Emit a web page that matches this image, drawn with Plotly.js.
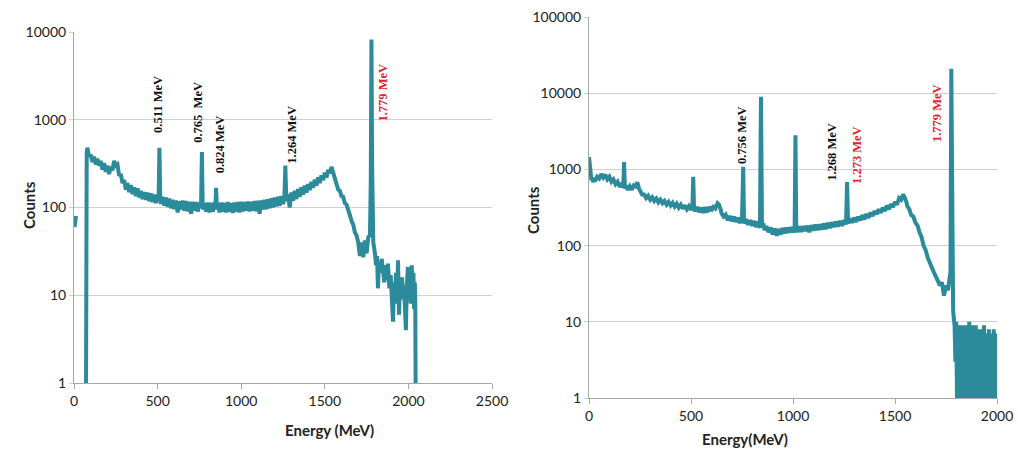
<!DOCTYPE html>
<html>
<head>
<meta charset="utf-8">
<script src="https://cdn.plot.ly/plotly-3.0.1.min.js"></script>
<style>html,body{margin:0;padding:0;background:#fff;}#chart{width:1018px;height:466px;}</style>
</head>
<body>
<div id="chart"></div>
<script>
// ---- Left spectrum (Energy as labelled on the axis, Counts) ----
const leftEnergy = [3, 8, 12, null, 70, 72, 76, 80, 90, 100, 110, 120, 130, 140, 150, 160, 170, 180, 190, 200, 210, 220, 230, 240, 250, 260, 270, 280, 290, 300, 310, 320, 330, 340, 350, 360, 370, 380, 390, 400, 410, 420, 430, 440, 450, 460, 470, 480, 490, 500, 506, 511, 516, 520, 530, 540, 550, 560, 570, 580, 590, 600, 610, 620, 630, 640, 650, 660, 670, 680, 690, 700, 710, 720, 730, 740, 750, 755, 760, 765, 770, 780, 790, 800, 810, 820, 830, 840, 845, 850, 855, 860, 870, 880, 890, 900, 910, 920, 930, 940, 950, 960, 970, 980, 990, 1000, 1010, 1020, 1030, 1040, 1050, 1060, 1070, 1080, 1090, 1100, 1110, 1120, 1130, 1140, 1150, 1160, 1170, 1180, 1190, 1200, 1210, 1220, 1230, 1240, 1250, 1258, 1264, 1270, 1280, 1290, 1300, 1310, 1320, 1330, 1340, 1350, 1360, 1370, 1380, 1390, 1400, 1410, 1420, 1430, 1440, 1450, 1460, 1470, 1480, 1490, 1500, 1510, 1520, 1530, 1540, 1548, 1555, 1560, 1570, 1580, 1590, 1600, 1610, 1620, 1630, 1640, 1650, 1660, 1670, 1680, 1690, 1700, 1710, 1720, 1730, 1740, 1750, 1760, 1770, 1775, 1779, 1783, 1790, 1800, 1806, 1812, 1818, 1824, 1832, 1840, 1848, 1856, 1864, 1872, 1878, 1886, 1894, 1902, 1908, 1914, 1920, 1926, 1932, 1938, 1944, 1950, 1956, 1962, 1968, 1974, 1980, 1985, 1990, 1997, 2003, 2008, 2014, 2020, 2026, 2030, 2034, 2038, 2041, 2043];
const leftCounts = [60, 72, 80, null, 1, 1, 420, 480, 380, 400, 330, 380, 310, 360, 300, 340, 270, 320, 255, 300, 240, 290, 265, 340, 300, 310, 230, 240, 190, 205, 160, 190, 150, 180, 142, 170, 135, 165, 130, 155, 125, 150, 122, 148, 118, 145, 115, 140, 112, 138, 125, 480, 120, 110, 132, 105, 130, 102, 126, 98, 122, 96, 120, 88, 118, 95, 120, 92, 118, 90, 116, 85, 116, 92, 115, 90, 114, 100, 110, 430, 95, 112, 90, 114, 88, 113, 90, 114, 95, 168, 95, 112, 88, 114, 90, 113, 88, 115, 90, 112, 87, 114, 90, 115, 88, 116, 90, 115, 92, 117, 90, 116, 92, 118, 91, 119, 85, 120, 95, 122, 96, 124, 98, 127, 100, 130, 103, 132, 105, 135, 110, 125, 300, 118, 142, 100, 148, 120, 155, 125, 162, 132, 170, 140, 178, 148, 185, 158, 196, 168, 208, 178, 220, 190, 232, 205, 250, 220, 268, 245, 290, 255, 250, 215, 190, 160, 155, 135, 132, 112, 108, 90, 82, 70, 64, 52, 48, 40, 28, 40, 27, 42, 30, 46, 48, 200, 8200, 300, 40, 30, 22, 28, 12, 24, 18, 26, 20, 14, 22, 15, 23, 12, 17, 9, 5, 14, 10, 18, 8, 25, 6, 14, 9, 16, 10, 13, 7, 4, 12, 21, 9, 15, 8, 22, 10, 18, 7, 14, 9, 1];

// ---- Right spectrum ----
const rightEnergy = [0, 4, 8, 12, 16, 20, 25, 30, 40, 50, 60, 70, 80, 90, 100, 110, 120, 130, 140, 150, 160, 168, 172, 176, 180, 190, 200, 210, 220, 230, 237, 245, 250, 260, 270, 280, 290, 300, 310, 320, 330, 340, 350, 360, 370, 380, 390, 400, 410, 420, 430, 440, 450, 460, 470, 480, 490, 500, 507, 511, 515, 520, 530, 540, 550, 560, 570, 580, 590, 600, 610, 620, 630, 637, 645, 650, 660, 670, 680, 690, 700, 710, 720, 730, 740, 750, 756, 760, 770, 780, 790, 800, 810, 820, 830, 838, 843, 848, 855, 860, 870, 880, 890, 900, 910, 920, 930, 940, 950, 960, 970, 980, 990, 1000, 1008, 1012, 1016, 1020, 1030, 1040, 1050, 1060, 1070, 1080, 1090, 1100, 1110, 1120, 1130, 1140, 1150, 1160, 1170, 1180, 1190, 1200, 1210, 1220, 1230, 1240, 1250, 1260, 1265, 1270, 1280, 1290, 1300, 1310, 1320, 1330, 1340, 1350, 1360, 1370, 1380, 1390, 1400, 1410, 1420, 1430, 1440, 1450, 1460, 1470, 1480, 1490, 1500, 1510, 1520, 1530, 1540, 1548, 1555, 1560, 1570, 1580, 1590, 1600, 1610, 1620, 1630, 1640, 1650, 1660, 1670, 1680, 1690, 1700, 1710, 1720, 1730, 1740, 1750, 1760, 1768, 1772, 1776, 1780, 1785, 1790, 1792, 1796, 1800, 1804, 1808, 1812, 1816, 1820, 1824, 1828, 1832, 1836, 1840, 1844, 1848, 1852, 1856, 1860, 1864, 1868, 1872, 1876, 1880, 1884, 1888, 1892, 1896, 1900, 1904, 1908, 1912, 1916, 1920, 1924, 1928, 1932, 1936, 1940, 1944, 1948, 1952, 1956, 1960, 1964, 1968, 1972, 1976, 1980, 1984, 1988, 1992, 1996, 2000];
const rightCounts = [1450, 1200, 900, 720, 780, 680, 760, 700, 800, 760, 870, 780, 850, 740, 800, 690, 740, 640, 690, 590, 640, 580, 1250, 560, 610, 540, 600, 540, 620, 600, 680, 560, 520, 470, 470, 420, 450, 400, 430, 385, 415, 370, 400, 360, 385, 345, 375, 335, 365, 325, 355, 315, 345, 305, 338, 300, 330, 295, 320, 800, 300, 285, 320, 275, 315, 270, 318, 275, 322, 285, 335, 310, 360, 345, 300, 265, 240, 255, 215, 245, 210, 240, 205, 232, 198, 225, 1080, 195, 222, 188, 215, 182, 210, 175, 205, 170, 9000, 180, 195, 160, 180, 150, 172, 140, 168, 135, 165, 140, 170, 145, 172, 148, 175, 150, 168, 2800, 165, 150, 178, 152, 180, 155, 182, 150, 185, 158, 188, 160, 190, 162, 194, 165, 198, 170, 202, 175, 205, 178, 210, 182, 215, 190, 680, 195, 225, 200, 232, 205, 240, 215, 250, 222, 260, 232, 272, 245, 285, 258, 300, 270, 315, 285, 335, 300, 350, 320, 375, 345, 420, 400, 470, 430, 380, 330, 300, 250, 240, 200, 185, 150, 130, 100, 88, 70, 62, 52, 45, 40, 36, 30, 33, 22, 30, 26, 38, 45, 21000, 30, 14, 10, 9, 3, 10, 1, 8, 1, 9, 1, 7, 1, 9, 1, 8, 1, 9, 1, 7, 1, 10, 1, 8, 1, 9, 1, 7, 1, 9, 1, 8, 1, 6, 1, 8, 1, 7, 1, 9, 1, 6, 1, 7, 1, 8, 1, 6, 1, 7, 1, 8, 1, 6, 1, 7];

// ---- Tick labels ----
const leftYTicks = [1, 10, 100, 1000, 10000];
const rightYTicks = [1, 10, 100, 1000, 10000, 100000];
const leftXTicks = [0, 500, 1000, 1500, 2000, 2500];
const rightXTicks = [0, 500, 1000, 1500, 2000];

// ---- Peak labels ----
const leftPeakLabels = ['0.511 MeV', '0.765  MeV', '0.824 MeV', '1.264 MeV', '1.779 MeV'];
const leftPeakX = [502, 742, 873, 1304, 1848];
const leftPeakY = [3.18, 3.08, 2.72, 2.83, 3.31];
const leftPeakRed = [false, false, false, false, true];

const rightPeakLabels = ['0.756 MeV', '1.268 MeV', '1.273 MeV', '1.779 MeV'];
const rightPeakX = [750, 1191, 1314, 1706];
const rightPeakY = [3.45, 3.23, 3.19, 3.74];
const rightPeakRed = [false, false, true, true];

const lineColor = '#2b8b9b';
const tickFont = {family: 'Lato, "Open Sans", sans-serif', size: 14, color: '#222'};

const traces = [
  {x: leftEnergy, y: leftCounts, type: 'scatter', mode: 'lines', xaxis: 'x', yaxis: 'y',
   line: {color: lineColor, width: 4}, connectgaps: false, hoverinfo: 'skip'},
  {x: rightEnergy, y: rightCounts, type: 'scatter', mode: 'lines', xaxis: 'x2', yaxis: 'y2',
   line: {color: lineColor, width: 4}, hoverinfo: 'skip'}
];

function xAxis(domain, range, ticks, anchor) {
  return {domain: domain, range: range, anchor: anchor, tickvals: ticks, ticktext: ticks.map(String),
    showgrid: false, zeroline: false, showline: true, linecolor: '#a8a8a8', linewidth: 1,
    ticks: 'outside', ticklen: 5, tickcolor: '#a8a8a8', tickfont: tickFont, fixedrange: true};
}
function yAxis(domain, range, ticks, anchor) {
  return {domain: domain, type: 'log', range: range, anchor: anchor, tickvals: ticks, ticktext: ticks.map(String),
    showgrid: true, gridcolor: '#cfcfcf', gridwidth: 1, zeroline: false, showline: true, linecolor: '#a8a8a8', linewidth: 1,
    ticks: 'outside', ticklen: 4, tickcolor: '#cfcfcf', tickfont: tickFont, fixedrange: true};
}

const W = 1018, H = 466;
const annotations = [];
function addPeaks(labels, xs, ys, reds, xref, yref) {
  labels.forEach((t, i) => annotations.push({
    x: xs[i], y: ys[i], xref: xref, yref: yref, text: t, showarrow: false, textangle: -90,
    font: {family: '"Liberation Serif", "DejaVu Serif", serif', size: 12.5, color: reds[i] ? '#e0242c' : '#111', weight: 'bold'},
    xanchor: 'center', yanchor: 'middle'
  }));
}
addPeaks(leftPeakLabels, leftPeakX, leftPeakY, leftPeakRed, 'x', 'y');
addPeaks(rightPeakLabels, rightPeakX, rightPeakY, rightPeakRed, 'x2', 'y2');

const titleFont = {family: 'Lato, "Open Sans", sans-serif', size: 15, color: '#222', weight: 'bold'};
annotations.push({x: 18 / W, y: 1 - 205 / H, xref: 'paper', yref: 'paper', text: '<b>Counts</b>', textangle: -90, showarrow: false, font: titleFont});
annotations.push({x: 283 / W, y: 1 - 441 / H, xref: 'paper', yref: 'paper', text: '<b>Energy (MeV)</b>', showarrow: false, font: titleFont});
annotations.push({x: 533 / W, y: 1 - 210 / H, xref: 'paper', yref: 'paper', text: '<b>Counts</b>', textangle: -90, showarrow: false, font: titleFont});
annotations.push({x: 790 / W, y: 1 - 450 / H, xref: 'paper', yref: 'paper', text: '<b>Energy(MeV)</b>', showarrow: false, font: titleFont});

const layout = {
  width: W, height: H, margin: {l: 0, r: 0, t: 0, b: 0},
  paper_bgcolor: '#fff', plot_bgcolor: '#fff', showlegend: false,
  xaxis: xAxis([74 / W, 492 / W], [0, 2500], leftXTicks, 'y'),
  yaxis: yAxis([(H - 383) / H, (H - 32) / H], [0, 4], leftYTicks, 'x'),
  xaxis2: xAxis([589 / W, 997 / W], [0, 2000], rightXTicks, 'y2'),
  yaxis2: yAxis([(H - 398) / H, (H - 17) / H], [0, 5], rightYTicks, 'x2'),
  annotations: annotations
};

Plotly.newPlot('chart', traces, layout, {displayModeBar: false, staticPlot: true});
</script>
</body>
</html>
